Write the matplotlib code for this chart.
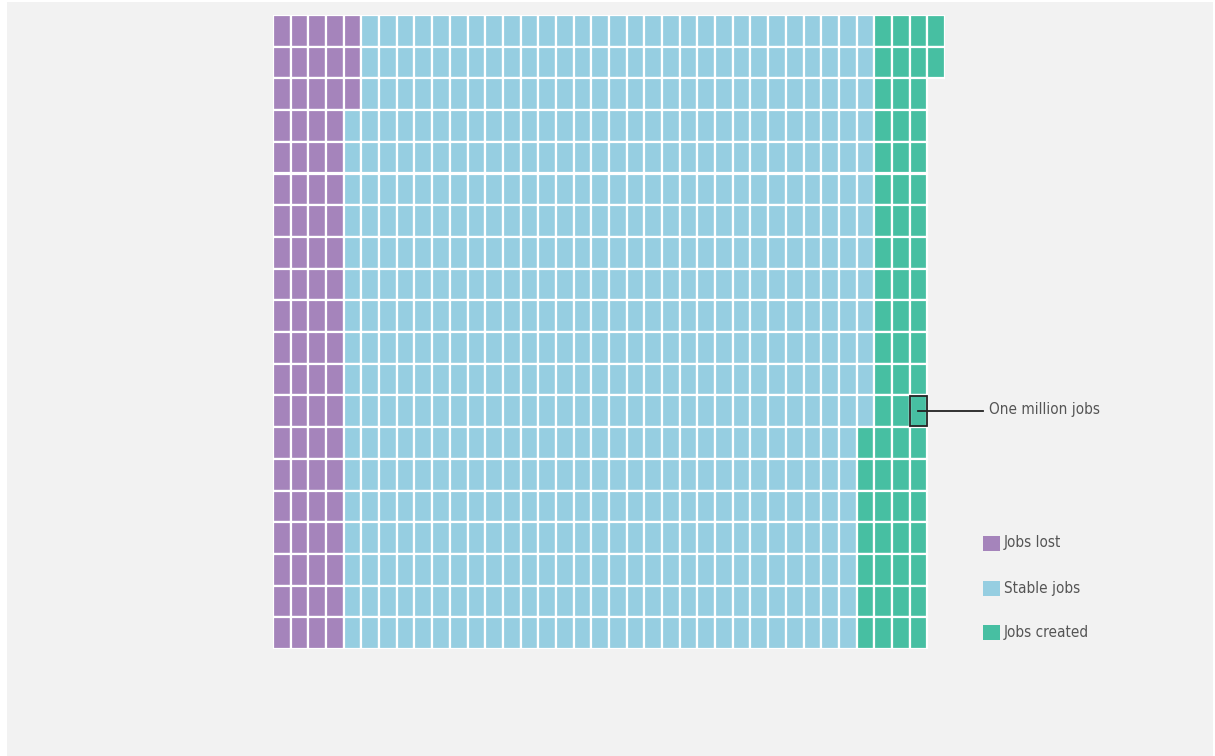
import numpy as np
import matplotlib
matplotlib.use("Agg")
import matplotlib.pyplot as plt
from matplotlib.patches import Rectangle

# waffle data: one cell = one million jobs
categories = ["Jobs lost", "Stable jobs", "Jobs created"]
counts = [83, 590, 69]
colors = ["#a584bb", "#96cee1", "#47bfa2"]
n_rows = 20
n_cols = 38
highlight_cell = (36, 12)  # (column, row) of the annotated cell
note = "One million jobs"

W, H = 1215, 756
fig = plt.figure(figsize=(W / 100, H / 100), dpi=100)
fig.patch.set_facecolor("white")
# grey panel behind everything
fig.patches.append(Rectangle((7 / W, 0), (1213 - 7) / W, (756 - 2) / H,
                             transform=fig.transFigure, facecolor="#f2f2f2",
                             edgecolor="none", zorder=-5))

ax = fig.add_axes([273 / W, (H - 649) / H, 672 / W, 634 / H])
ax.set_facecolor("none")
ax.set_zorder(2)
ax.set_xlim(0, n_cols)
ax.set_ylim(n_rows, 0)
ax.axis("off")

# fill column by column, top to bottom
idx = 0
for cat, n, c in zip(categories, counts, colors):
    for k in range(n):
        col, row = divmod(idx, n_rows)
        ax.add_patch(Rectangle((col, row), 1, 1, facecolor=c,
                               edgecolor="white", lw=1.6))
        idx += 1

hc, hr = highlight_cell
ax.add_patch(Rectangle((hc + 0.03, hr + 0.03), 0.94, 0.94, facecolor="none",
                       edgecolor="#222222", lw=1.3, zorder=5))

txt = dict(family="DejaVu Sans", fontstretch="condensed", fontsize=11,
           color="#555555", va="center", ha="left")

# leader line + label, in figure pixels
line_y = 411
fig.add_artist(plt.Line2D([918 / W, 983 / W], [1 - line_y / H, 1 - line_y / H],
                          color="#222222", lw=1.3, zorder=6))
fig.text(989 / W, 1 - 409 / H, note, **txt)

# legend
leg_y = [543, 588, 632]
for cat, c, y in zip(categories, colors, leg_y):
    fig.patches.append(Rectangle((983 / W, 1 - (y + 8) / H), 17 / W, 15 / H,
                                 transform=fig.transFigure, facecolor=c,
                                 edgecolor="none"))
    fig.text(1004 / W, 1 - y / H, cat, **txt)

fig.savefig("out.png", dpi=100)
